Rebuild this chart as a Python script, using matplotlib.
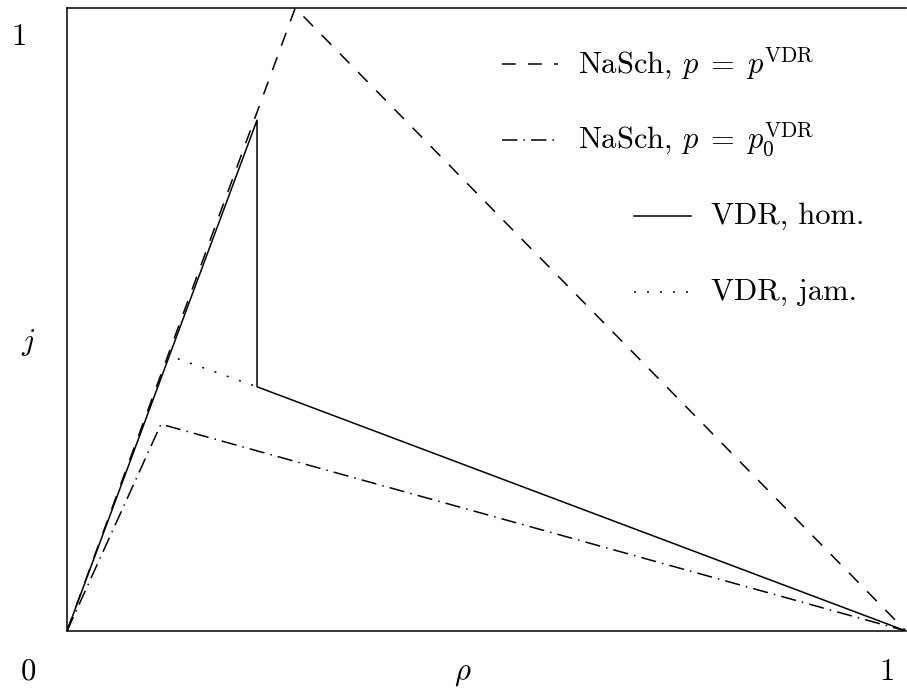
import matplotlib
matplotlib.use("Agg")
import matplotlib.pyplot as plt

# Fundamental diagrams j(rho) for NaSch and VDR
rho_nasch = [0.0, 0.272, 1.0]
j_nasch = [0.0, 1.0, 0.0]

rho_nasch0 = [0.0, 0.112, 1.0]
j_nasch0 = [0.0, 0.332, 0.0]

rho_hom = [0.0, 0.2265, 0.2265, 1.0]
j_hom = [0.0, 0.820, 0.392, 0.0]

rho_jam = [0.132, 0.2265]
j_jam = [0.437, 0.392]

labels = [r"NaSch, $p \;=\; p^{\rm VDR}$",
          r"NaSch, $p \;=\; p_0^{\rm VDR}$",
          "VDR, hom.",
          "VDR, jam."]

plt.rcParams['font.family'] = 'serif'
plt.rcParams['font.serif'] = ['cmr10']
plt.rcParams['mathtext.fontset'] = 'cm'
plt.rcParams['axes.formatter.use_mathtext'] = True

W, H = 907, 691
fig = plt.figure(figsize=(W / 100, H / 100), dpi=100)
ax = fig.add_axes([67 / W, 1 - 631 / H, 839 / W, 623 / H])

lw = 1.1
dashed = (0, (9, 8))
dashdot = (0, (10, 4, 1, 4))
dotted = (0, (1.3, 7.2))

ax.plot(rho_nasch, j_nasch, color='black', lw=lw, linestyle=dashed)
ax.plot(rho_nasch0, j_nasch0, color='black', lw=lw, linestyle=dashdot)
ax.plot(rho_hom, j_hom, color='black', lw=lw, linestyle='-')
ax.plot(rho_jam, j_jam, color='black', lw=lw, linestyle=dotted)

ax.set_xlim(0, 1)
ax.set_ylim(0, 1)
ax.set_xticks([])
ax.set_yticks([])
ax.spines['right'].set_visible(False)
for s in ['left', 'top', 'bottom']:
    ax.spines[s].set_linewidth(1.1)

# key drawn by hand in pixel positions
def px(x, y):
    return x / W, 1 - y / H

key = [
    (502, 558, 64, dashed, labels[0]),
    (502, 558, 140, dashdot, labels[1]),
    (634, 691, 216, '-', labels[2]),
    (634, 691, 292, dotted, labels[3]),
]
for x0, x1, y, ls, txt in key:
    a = px(x0, y)
    b = px(x1, y)
    fig.add_artist(plt.Line2D([a[0], b[0]], [a[1], b[1]], color='black',
                              lw=lw, linestyle=ls))
    tx, ty = px(x1 + 20, y)
    fig.text(tx, ty, txt, fontsize=22, ha='left', va='center')

fs = 22
fig.text(*px(19, 37), "1", fontsize=fs, ha='center', va='center')
fig.text(*px(28, 343), r"$j$", fontsize=fs, ha='center', va='center')
fig.text(*px(28, 680), "0", fontsize=fs, ha='center', va='baseline')
fig.text(*px(463, 680), r"$\rho$", fontsize=fs, ha='center', va='baseline')
fig.text(*px(887, 680), "1", fontsize=fs, ha='center', va='baseline')

fig.savefig("out.png", dpi=100)
